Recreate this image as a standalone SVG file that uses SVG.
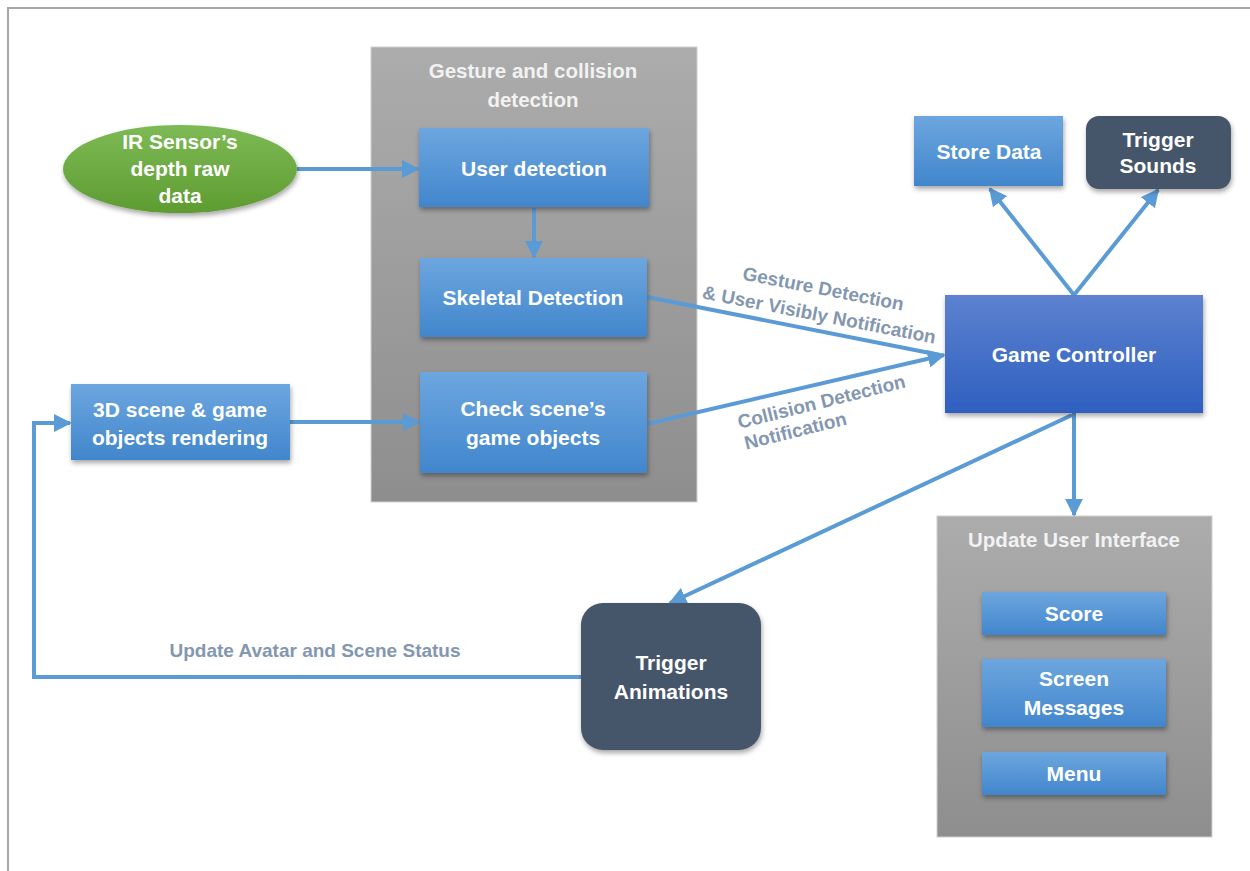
<svg xmlns="http://www.w3.org/2000/svg" width="1250" height="871" viewBox="0 0 1250 871">
<defs>
<linearGradient id="gBlue" x1="0" y1="0" x2="0" y2="1"><stop offset="0" stop-color="#6da6df"/><stop offset="1" stop-color="#4186cc"/></linearGradient>
<linearGradient id="gGC" x1="0" y1="0" x2="0" y2="1"><stop offset="0" stop-color="#5c82d0"/><stop offset="1" stop-color="#2f5fbf"/></linearGradient>
<linearGradient id="gGreen" x1="0" y1="0" x2="0" y2="1"><stop offset="0" stop-color="#7dba55"/><stop offset="1" stop-color="#5e9c31"/></linearGradient>
<linearGradient id="gGray" x1="0" y1="0" x2="0" y2="1"><stop offset="0" stop-color="#acacac"/><stop offset="1" stop-color="#8e8e8e"/></linearGradient>
<filter id="sh" x="-10%" y="-10%" width="130%" height="140%"><feDropShadow dx="1" dy="3" stdDeviation="2.5" flood-color="#000" flood-opacity="0.35"/></filter>
<marker id="ah" viewBox="0 0 10 10" refX="9" refY="5" markerWidth="4.5" markerHeight="4.5" orient="auto" markerUnits="strokeWidth"><path d="M0,0 L10,5 L0,10 z" fill="#5b9bd5"/></marker>
</defs>
<style>
.t{font-family:"Liberation Sans",Arial,sans-serif;font-weight:bold;fill:#ffffff;text-anchor:middle}
.n{font-size:21px}
.g{font-size:20.5px;fill:#f2f2f2}
.lbl{font-family:"Liberation Sans",Arial,sans-serif;font-weight:bold;fill:#8497b0;font-size:19px;text-anchor:middle}
.c{fill:none;stroke:#5b9bd5;stroke-width:4}
.ca{fill:none;stroke:#5b9bd5;stroke-width:4;marker-end:url(#ah)}
</style>
<rect width="1250" height="871" fill="#ffffff"/>
<path d="M8,871 V8 H1250" fill="none" stroke="#a6a6a6" stroke-width="2"/>

<g id="gesture-group">
<rect x="371" y="47" width="326" height="455" fill="url(#gGray)" stroke="#d0d0d0" stroke-width="1"/>
<text class="t g" x="533" y="78">Gesture and collision</text>
<text class="t g" x="533" y="107">detection</text>
</g>
<g id="ui-group">
<rect x="937" y="516" width="275" height="321" fill="url(#gGray)" stroke="#d0d0d0" stroke-width="1"/>
<text class="t g" x="1074" y="547">Update User Interface</text>
</g>

<g id="connectors">
<line class="ca" x1="297" y1="169" x2="418" y2="169"/>
<line class="ca" x1="534" y1="208" x2="534" y2="257"/>
<line class="ca" x1="290" y1="422" x2="419" y2="422"/>
<line class="c" x1="647" y1="297" x2="940" y2="355"/>
<line class="ca" x1="647" y1="424" x2="944" y2="355"/>
<line class="ca" x1="1074" y1="295" x2="990" y2="189"/>
<line class="ca" x1="1074" y1="295" x2="1158" y2="190"/>
<line class="ca" x1="1074" y1="413" x2="1074" y2="515"/>
<line class="ca" x1="1072" y1="415" x2="670" y2="603"/>
<polyline class="ca" points="581,677 34,677 34,423 70,423"/>
<text class="lbl" transform="translate(822,295) rotate(11)">Gesture Detection</text>
<text class="lbl" transform="translate(818,321) rotate(11)">&amp; User Visibly Notification</text>
<text class="lbl" transform="translate(823,408) rotate(-14)">Collision Detection</text>
<text class="lbl" transform="translate(797,437) rotate(-14)">Notification</text>
<text class="lbl" x="315" y="657">Update Avatar and Scene Status</text>
</g>

<g id="ir-sensor">
<ellipse cx="180" cy="169" rx="117" ry="44" fill="url(#gGreen)" filter="url(#sh)"/>
<text class="t n" x="180" y="149">IR Sensor’s</text>
<text class="t n" x="180" y="176">depth raw</text>
<text class="t n" x="180" y="203">data</text>
</g>
<g id="user-detection">
<rect x="419" y="128" width="230" height="79" fill="url(#gBlue)" filter="url(#sh)"/>
<text class="t n" x="534" y="176">User detection</text>
</g>
<g id="skeletal-detection">
<rect x="420" y="258" width="227" height="79" fill="url(#gBlue)" filter="url(#sh)"/>
<text class="t n" x="533" y="305">Skeletal Detection</text>
</g>
<g id="check-scene">
<rect x="420" y="372" width="227" height="101" fill="url(#gBlue)" filter="url(#sh)"/>
<text class="t n" x="533" y="416">Check scene’s</text>
<text class="t n" x="533" y="445">game objects</text>
</g>
<g id="scene-rendering">
<rect x="71" y="384" width="219" height="76" fill="url(#gBlue)" filter="url(#sh)"/>
<text class="t n" x="180" y="417">3D scene &amp; game</text>
<text class="t n" x="180" y="445">objects rendering</text>
</g>
<g id="game-controller">
<rect x="945" y="295" width="258" height="118" fill="url(#gGC)" filter="url(#sh)"/>
<text class="t n" x="1074" y="362">Game Controller</text>
</g>
<g id="store-data">
<rect x="914" y="116" width="149" height="70" fill="url(#gBlue)" filter="url(#sh)"/>
<text class="t n" x="989" y="159">Store Data</text>
</g>
<g id="trigger-sounds">
<rect x="1086" y="116" width="145" height="73" rx="13" fill="#44546a" filter="url(#sh)"/>
<text class="t n" x="1158" y="147">Trigger</text>
<text class="t n" x="1158" y="173">Sounds</text>
</g>
<g id="trigger-animations">
<rect x="581" y="603" width="180" height="147" rx="22" fill="#44546a" filter="url(#sh)"/>
<text class="t n" x="671" y="670">Trigger</text>
<text class="t n" x="671" y="699">Animations</text>
</g>
<g id="score">
<rect x="982" y="592" width="184" height="43" fill="url(#gBlue)" filter="url(#sh)"/>
<text class="t n" x="1074" y="621">Score</text>
</g>
<g id="screen-messages">
<rect x="982" y="659" width="184" height="68" fill="url(#gBlue)" filter="url(#sh)"/>
<text class="t n" x="1074" y="686">Screen</text>
<text class="t n" x="1074" y="715">Messages</text>
</g>
<g id="menu">
<rect x="982" y="752" width="184" height="43" fill="url(#gBlue)" filter="url(#sh)"/>
<text class="t n" x="1074" y="781">Menu</text>
</g>
</svg>
